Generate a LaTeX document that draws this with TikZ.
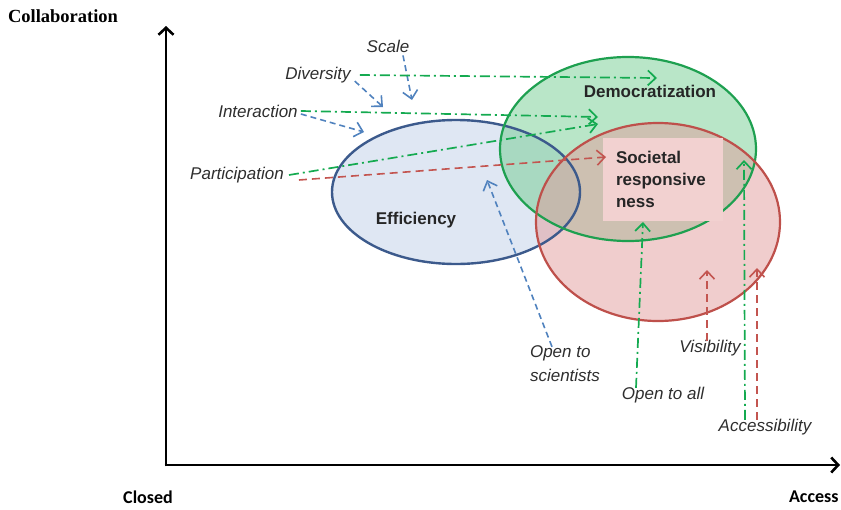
\documentclass[tikz,border=0pt]{standalone}
\usepackage{fontspec}
\setmainfont{Liberation Sans}
\newfontfamily\timesfont{Liberation Serif}
\newfontfamily\calibrifont{Carlito}
\usepackage{tikz}
\usetikzlibrary{positioning, arrows.meta, shapes.geometric}
\definecolor{effblue}{RGB}{60,90,140}
\definecolor{efffill}{RGB}{223,231,243}
\definecolor{demgreen}{RGB}{30,160,80}
\definecolor{demfill}{RGB}{115,205,145}
\definecolor{socred}{RGB}{190,80,75}
\definecolor{socfill}{RGB}{225,155,155}
\definecolor{boxpink}{RGB}{242,209,208}
\definecolor{arrblue}{RGB}{80,130,190}
\definecolor{arrgreen}{RGB}{20,170,80}
\definecolor{arrred}{RGB}{195,85,80}
\tikzstyle{lbl}=[%
      font=\fontsize{17}{24}\selectfont\itshape, text=black!82, inner sep=1pt
]
\tikzstyle{area}=[%
      font=\fontsize{17}{22}\selectfont\bfseries, text=black!85
]
\tikzstyle{axis}=[%
      line width=2.6pt, draw=black, -{Straight Barb[length=7pt,width=15pt]}
]
\tikzstyle{blue arrow}=[%
      draw=arrblue, line width=1.6pt, dash pattern=on 6pt off 4pt,
      -{Straight Barb[length=8pt,width=15pt]}
]
\tikzstyle{green arrow}=[%
      draw=arrgreen, line width=1.7pt, dash pattern=on 10pt off 4pt on 2pt off 4pt,
      -{Straight Barb[length=8pt,width=15pt]}
]
\tikzstyle{red arrow}=[%
      draw=arrred, line width=1.6pt, dash pattern=on 8pt off 5pt,
      -{Straight Barb[length=8pt,width=15pt]}
]

\begin{document}
\begin{tikzpicture}[x=1pt, y=-1pt]
    \useasboundingbox (0,0) rectangle (841,509);

    % axes
    \coordinate (origin) at (166,465);
    \coordinate (ytop)   at (166,26);
    \coordinate (xend)   at (840,465);
    \draw[axis] ([yshift=-1.3pt]origin) -- (ytop);
    \draw[axis] ([xshift=-1.3pt]origin) -- (xend);
    \node[font=\timesfont\fontsize{18.5}{20}\selectfont\bfseries] (collab) at (63,16)  {Collaboration};
    \node[font=\calibrifont\fontsize{18}{20}\selectfont\bfseries] (closed) at (148,497) {Closed};
    \node[font=\calibrifont\fontsize{18}{20}\selectfont\bfseries, anchor=east] (access) at (842,497) {Access};

    % the three areas: fills first, outlines on top
    \fill[efffill] (456,192) ellipse [x radius=124pt, y radius=72pt];
    \fill[demfill, fill opacity=0.5] (628,149) ellipse [x radius=128pt, y radius=92pt];
    \fill[socfill, fill opacity=0.5] (658,222) ellipse [x radius=122pt, y radius=99pt];
    \draw[effblue, line width=2.4pt] (456,192) ellipse [x radius=124pt, y radius=72pt];
    \draw[demgreen, line width=2.2pt] (628,149) ellipse [x radius=128pt, y radius=92pt];
    \draw[socred, line width=2.2pt] (658,222) ellipse [x radius=122pt, y radius=99pt];

    \node[area] (efficiency) at (416,220) {Efficiency};
    \node[area] (democ)      at (650,91)  {Democratization};
    \node[area, fill=boxpink, text width=94pt, align=left, inner xsep=13pt,
          minimum height=83pt] (societal) at (663,179.5) {Societal\\responsive\\ness};

    % drivers
    \node[lbl] (scale)         at (388,46)  {Scale};
    \node[lbl] (diversity)     at (318,75)  {Diversity};
    \node[lbl] (interaction)   at (258,111) {Interaction};
    \node[lbl] (participation) at (237,175) {Participation};
    \node[lbl, align=left] (scientists) at (565,364) {Open to\\scientists};
    \node[lbl] (visibility)    at (710,348) {Visibility};
    \node[lbl] (openall)       at (663,395) {Open to all};
    \node[lbl] (accessibility) at (765,427) {Accessibility};

    \coordinate (scale tip) at (412,100);
    \coordinate (div tip b) at (383,107);
    \coordinate (div tip g) at (657,78);
    \coordinate (int tip b) at (364,132);
    \coordinate (int tip g) at (598,117);
    \coordinate (par tip g) at (598,124);
    \coordinate (par tip r) at (606,157);
    \coordinate (sci tip)   at (487,180);
    \coordinate (all tip)   at (643,222);
    \coordinate (vis tip)   at (707,270);
    \coordinate (acc tip g) at (744,160);
    \coordinate (acc tip r) at (757,268);

    \draw[blue arrow]  ([xshift=15pt,yshift=-2pt]scale.south) -- (scale tip);
    \draw[blue arrow]  ([xshift=3pt,yshift=3pt]diversity.south east) -- (div tip b);
    \draw[green arrow] ([xshift=8pt]diversity.east) -- (div tip g);
    \draw[blue arrow]  ([xshift=2pt,yshift=-3pt]interaction.east) -- (int tip b);
    \draw[green arrow] ([xshift=2pt]interaction.east) -- (int tip g);
    \draw[green arrow] ([xshift=4pt]participation.east) -- (par tip g);
    \draw[red arrow]   ([xshift=14pt,yshift=-5pt]participation.east) -- (par tip r);
    \draw[blue arrow]  ([xshift=-13pt,yshift=-2pt]scientists.north) -- (sci tip);
    \draw[green arrow] ([xshift=-27pt,yshift=-2pt]openall.north) -- (all tip);
    \draw[red arrow]   ([xshift=-3pt,yshift=-2pt]visibility.north) -- (vis tip);
    \draw[green arrow] ([xshift=-20pt,yshift=-2pt]accessibility.north) -- (acc tip g);
    \draw[red arrow]   ([xshift=-8pt,yshift=-2pt]accessibility.north) -- (acc tip r);

\end{tikzpicture}
\end{document}
